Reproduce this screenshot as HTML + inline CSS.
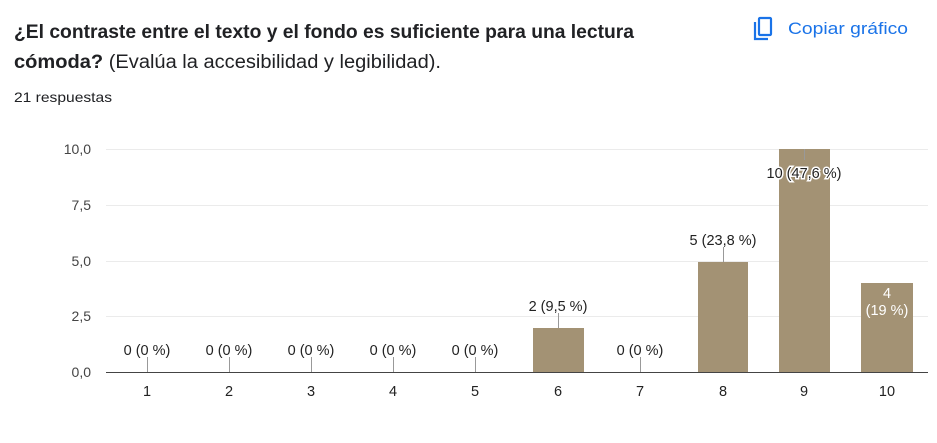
<!DOCTYPE html>
<html><head><meta charset="utf-8"><style>
body{margin:0;background:#fff;width:937px;height:438px;overflow:hidden;font-family:"Liberation Sans",Arial,sans-serif}
</style></head><body>
<svg width="937" height="438" xmlns="http://www.w3.org/2000/svg" font-family="Liberation Sans, Arial, sans-serif">
<text x="14" y="38" font-size="19" font-weight="bold" fill="#202124" textLength="620" lengthAdjust="spacingAndGlyphs">¿El contraste entre el texto y el fondo es suficiente para una lectura</text>
<text x="14" y="68" font-size="19" fill="#202124" textLength="427" lengthAdjust="spacingAndGlyphs"><tspan font-weight="bold">cómoda?</tspan> (Evalúa la accesibilidad y legibilidad).</text>
<text x="14" y="102" font-size="14" fill="#202124" textLength="98" lengthAdjust="spacingAndGlyphs">21 respuestas</text>
<g fill="none" stroke="#1a73e8" stroke-width="2.2">
<rect x="759" y="18" width="12" height="17" rx="1"/>
<path d="M755 22 V39 H768"/>
</g>
<text x="788" y="34" font-size="17" fill="#1a73e8" textLength="120" lengthAdjust="spacingAndGlyphs">Copiar gráfico</text>
<g stroke="#ebebeb" stroke-width="1">
<line x1="106" y1="149.5" x2="928" y2="149.5"/>
<line x1="106" y1="205.5" x2="928" y2="205.5"/>
<line x1="106" y1="261.5" x2="928" y2="261.5"/>
<line x1="106" y1="316.5" x2="928" y2="316.5"/>
</g>
<g font-size="14" fill="#444" text-anchor="end">
<text x="91" y="154">10,0</text><text x="91" y="210">7,5</text><text x="91" y="266">5,0</text><text x="91" y="321">2,5</text><text x="91" y="377">0,0</text>
</g>
<g fill="#a39274">
<rect x="533" y="328" width="51" height="44"/>
<rect x="698" y="262" width="50" height="110"/>
<rect x="779" y="149" width="51" height="223"/>
<rect x="861" y="283" width="52" height="89"/>
</g>
<line x1="106" y1="372.5" x2="928" y2="372.5" stroke="#444" stroke-width="1"/>
<g stroke="#999" stroke-width="1">
<line x1="147.5" y1="357" x2="147.5" y2="372"/><line x1="229.5" y1="357" x2="229.5" y2="372"/><line x1="311.5" y1="357" x2="311.5" y2="372"/><line x1="393.5" y1="357" x2="393.5" y2="372"/><line x1="475.5" y1="357" x2="475.5" y2="372"/><line x1="640.5" y1="357" x2="640.5" y2="372"/>
<line x1="558.5" y1="313" x2="558.5" y2="328"/><line x1="723.5" y1="247" x2="723.5" y2="262"/><line x1="804.5" y1="149" x2="804.5" y2="160"/>
</g>
<g font-size="14.5" fill="#222" text-anchor="middle">
<text x="147" y="355">0 (0 %)</text><text x="229" y="355">0 (0 %)</text><text x="311" y="355">0 (0 %)</text><text x="393" y="355">0 (0 %)</text><text x="475" y="355">0 (0 %)</text><text x="640" y="355">0 (0 %)</text>
<text x="558" y="311">2 (9,5 %)</text><text x="723" y="245">5 (23,8 %)</text>
<text x="804" y="178" stroke="#fff" stroke-width="3" paint-order="stroke">10 (47,6 %)</text>
<text x="887" y="298" fill="#fff">4</text><text x="887" y="315" fill="#fff">(19 %)</text>
</g>
<g font-size="14.5" fill="#222" text-anchor="middle">
<text x="147" y="396">1</text><text x="229" y="396">2</text><text x="311" y="396">3</text><text x="393" y="396">4</text><text x="475" y="396">5</text><text x="558" y="396">6</text><text x="640" y="396">7</text><text x="723" y="396">8</text><text x="804" y="396">9</text><text x="887" y="396">10</text>
</g>
</svg>
</body></html>
